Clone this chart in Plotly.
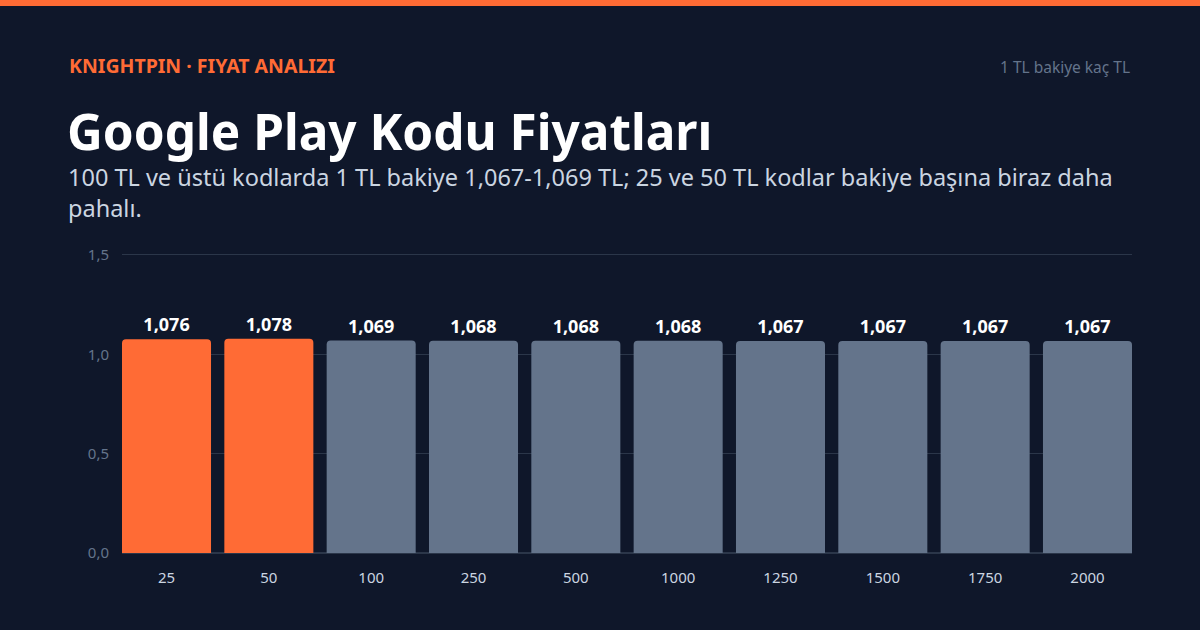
import plotly.graph_objects as go

# kod tutarlari (TL) ve 1 TL bakiye fiyati
codes = ["25", "50", "100", "250", "500", "1000", "1250", "1500", "1750", "2000"]
price_per_tl = [1.076, 1.078, 1.069, 1.068, 1.068, 1.068, 1.067, 1.067, 1.067, 1.067]
highlight = ["25", "50"]

ORANGE = "#ff6b35"
SLATE = "#64748b"
BG = "#0f172a"
GRID = "#2b3649"
FONT = "Noto Sans"

YMAX = 1.52
PW, PH = 1010, 302  # plot area in px
TOP = 630 - 77 - PH

def py(pix):
    # paper y from page pixel row
    return (630 - 77 - pix) / PH

bar_colors = [ORANGE if c in highlight else SLATE for c in codes]

fig = go.Figure()
fig.add_trace(go.Bar(
    x=codes,
    y=price_per_tl,
    marker=dict(color=bar_colors, line=dict(width=0), cornerradius=4),
    texttemplate="<b>%{y:.3f}</b>",
    textposition="outside",
    textfont=dict(family=FONT, size=18, color="#ffffff"),
    cliponaxis=False,
    hoverinfo="skip",
))

fig.update_layout(
    width=1200, height=630,
    paper_bgcolor=BG, plot_bgcolor=BG,
    separators=",.",
    margin=dict(l=122, r=68, t=TOP, b=77),
    bargap=0.13,
    showlegend=False,
    font=dict(family=FONT, color="#cbd5e1"),
    xaxis=dict(
        type="category",
        range=[-0.435, len(codes) - 1 + 0.435],
        showgrid=False, zeroline=False, showline=False,
        tickfont=dict(size=15, color="#cbd5e1"),
        ticks="", ticklabelstandoff=14,
    ),
    yaxis=dict(
        range=[0, YMAX],
        tickvals=[0, 0.5, 1.0, 1.5],
        tickformat=".1f",
        gridcolor=GRID, gridwidth=1,
        zeroline=True, zerolinecolor=GRID,
        showline=False,
        tickfont=dict(size=15, color="#64748b"),
        ticks="", ticklabelstandoff=12,
    ),
    shapes=[dict(type="rect", xref="paper", yref="paper",
                 x0=-122 / PW, x1=1 + 68 / PW,
                 y0=py(6), y1=py(-1),
                 line=dict(width=0), fillcolor=ORANGE)],
    annotations=[
        dict(text="<b>KNIGHTPIN · FIYAT ANALIZI</b>", xref="paper", yref="paper",
             x=-55 / PW, y=py(65), xanchor="left", yanchor="middle",
             showarrow=False, font=dict(family=FONT, size=19.5, color=ORANGE)),
        dict(text="1 TL bakiye kaç TL", xref="paper", yref="paper",
             x=1, y=py(67), xanchor="right", yanchor="middle",
             showarrow=False, font=dict(family=FONT, size=15.5, color="#64748b")),
        dict(text="<b>Google Play Kodu Fiyatları</b>", xref="paper", yref="paper",
             x=-57 / PW, y=py(131), xanchor="left", yanchor="middle",
             showarrow=False, font=dict(family=FONT, size=49.5, color="#ffffff")),
        dict(text="100 TL ve üstü kodlarda 1 TL bakiye 1,067-1,069 TL; 25 ve 50 TL kodlar bakiye başına biraz daha<br>pahalı.",
             xref="paper", yref="paper",
             x=-56 / PW, y=py(193), xanchor="left", yanchor="middle",
             align="left", showarrow=False,
             font=dict(family=FONT, size=23.5, color="#cbd5e1")),
    ],
)

fig.write_html("out.html", config={"displayModeBar": False},
               post_script="document.body.style.margin='0';")
